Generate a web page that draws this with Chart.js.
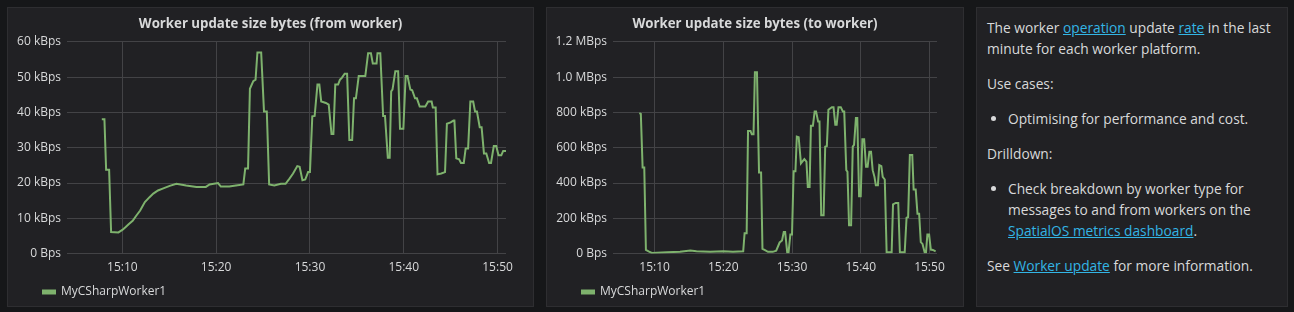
<!DOCTYPE html>
<html lang="en">
    <head>
        <title>Worker update size</title>
        <meta charset="UTF-8">
        <script src="https://cdn.jsdelivr.net/npm/chart.js@4.4.1/dist/chart.umd.min.js"></script>
        <style>
            body {
                margin: 0;
                background: #161719;
                font-family: "Open Sans", sans-serif;
                color: #d8d9da;
            }
            .panel {
                position: absolute;
                top: 7px;
                height: 298px;
                background: #212124;
                border: 1px solid #2e2e31;
            }
            .panel canvas {
                display: block;
            }
            .text {
                box-sizing: border-box;
                height: 300px;
                padding: 9px 6px 9px 10px;
                font-size: 13.75px;
                line-height: 21px;
            }
            .text p, .text ul {
                margin: 0 0 14px 0;
            }
            .text ul {
                padding-left: 21px;
            }
            .text a {
                color: #33b5e5;
                text-decoration: underline;
            }
        </style>
    </head>

    <body>
        <div class="panel" style="left:7px; width:525px;"><canvas id="fromChart" width="525" height="298"></canvas></div>
        <div class="panel" style="left:546px; width:416px;"><canvas id="toChart" width="416" height="298"></canvas></div>
        <div class="panel text" style="left:976px; width:312px;">
            <p>The worker <a href="#">operation</a> update <a href="#">rate</a> in the last minute for each worker platform.</p>
            <p>Use cases:</p>
            <ul><li>Optimising for performance and cost.</li></ul>
            <p>Drilldown:</p>
            <ul><li>Check breakdown by worker type for messages to and from workers on the <a href="#">SpatialOS metrics dashboard</a>.</li></ul>
            <p>See <a href="#">Worker update</a> for more information.</p>
        </div>

        <script>
            // minutes after 15:00, values in kBps
            const fromMinutes = [7.81, 8.09, 8.27, 8.59, 8.8, 9.58, 10.0, 10.3, 10.7, 11.1, 11.5, 11.9, 12.4, 12.9, 13.3, 13.8, 14.3, 15.05, 15.76, 16.8,
                17.9, 18.9, 19.3, 20.2, 20.5, 21.4, 22.1, 22.9, 23.1, 23.4, 23.6, 23.96, 24.2, 24.4, 24.8, 25.1, 25.4, 25.65, 26.2, 26.9,
                27.4, 27.8, 28.2, 28.65, 28.9, 29.2, 29.5, 29.8, 30.0, 30.25, 30.5, 30.8, 31.0, 31.2, 31.7, 32.0, 32.3, 32.5, 32.7, 33.0,
                33.2, 33.4, 33.7, 33.96, 34.2, 34.5, 34.7, 34.9, 35.2, 35.9, 36.2, 36.5, 36.7, 37.1, 37.2, 37.5, 37.8, 38.0, 38.3, 38.5,
                38.66, 38.8, 39.1, 39.4, 39.6, 39.96, 40.2, 40.4, 40.7, 40.9, 41.2, 41.4, 41.7, 42.3, 42.6, 42.97, 43.1, 43.4, 43.6, 44.0,
                44.4, 44.6, 45.0, 45.3, 45.4, 45.6, 45.9, 46.1, 46.4, 46.6, 46.86, 47.1, 47.4, 47.6, 47.8, 48.1, 48.3, 48.55, 48.8, 49.1,
                49.3, 49.6, 49.86, 50.1, 50.4, 50.6, 50.9];
            const fromValues = [38.1, 38.1, 23.8, 23.8, 6.1, 6.0, 6.7, 7.4, 8.4, 9.3, 10.8, 12.2, 14.6, 16.0, 17.0, 17.9, 18.4, 19.2, 19.8, 19.3,
                18.9, 18.9, 19.6, 20.0, 19.0, 19.0, 19.3, 19.6, 24.1, 24.1, 46.7, 48.9, 49.3, 57.0, 57.0, 40.3, 40.3, 19.6, 19.3, 19.8,
                19.8, 21.2, 22.7, 24.8, 24.6, 20.8, 21.0, 23.1, 23.1, 38.9, 39.0, 47.9, 47.9, 43.1, 42.7, 42.2, 33.9, 33.9, 47.9, 47.9,
                49.3, 49.8, 51.0, 51.0, 32.2, 32.2, 44.0, 44.0, 50.3, 50.3, 56.8, 56.8, 53.9, 53.9, 56.8, 56.8, 39.0, 39.0, 27.2, 27.2,
                46.0, 46.5, 51.7, 51.7, 35.4, 35.4, 50.3, 50.3, 46.5, 46.3, 44.0, 44.0, 41.7, 41.7, 43.1, 43.1, 41.4, 41.4, 22.5, 22.7,
                23.1, 36.8, 37.2, 37.7, 37.7, 27.0, 26.7, 25.7, 25.7, 29.8, 29.8, 43.1, 43.1, 40.3, 40.3, 35.8, 35.8, 28.4, 28.4, 25.7,
                25.7, 30.5, 30.5, 27.9, 27.9, 29.1, 29.1];

            const toMinutes = [7.78, 8.0, 8.26, 8.5, 8.74, 9.13, 9.6, 11.8, 13.7, 15.2, 16.1, 18.1, 20.0, 21.4, 22.9, 23.1, 23.4, 23.6, 23.96, 24.15,
                24.4, 24.6, 24.9, 25.2, 25.5, 25.7, 26.0, 26.5, 27.2, 27.7, 28.2, 28.55, 28.8, 29.0, 29.3, 29.5, 29.76, 30.0, 30.24, 30.5,
                30.7, 30.97, 31.3, 31.5, 31.8, 32.1, 32.3, 32.56, 32.75, 33.04, 33.3, 33.5, 33.8, 34.0, 34.25, 34.6, 34.83, 35.07, 35.3, 35.8,
                36.04, 36.3, 36.5, 36.76, 37.1, 37.4, 37.6, 37.9, 38.07, 38.3, 38.6, 38.84, 39.03, 39.3, 39.5, 39.76, 40.0, 40.24, 40.5, 40.77,
                41.0, 41.26, 41.5, 41.74, 42.0, 42.2, 42.5, 42.7, 43.0, 43.2, 43.5, 43.77, 44.5, 44.7, 45.1, 45.46, 45.7, 46.4, 46.67, 46.9,
                47.15, 47.5, 47.7, 48.0, 48.26, 48.5, 48.74, 48.99, 49.3, 49.5, 49.7, 49.95, 50.2, 50.5, 50.9];
            const toValues = [796, 792, 488, 488, 21, 13, 4, 8, 11, 17, 13, 10, 13, 11, 13, 116, 116, 695, 695, 676,
                676, 1028, 1028, 460, 460, 27, 21, 10, 10, 17, 63, 74, 122, 122, 8, 8, 108, 108, 467, 467,
                663, 660, 511, 521, 536, 521, 378, 378, 724, 724, 806, 806, 749, 749, 217, 217, 606, 610, 815, 830,
                830, 730, 730, 830, 830, 806, 806, 473, 464, 160, 160, 606, 616, 768, 768, 325, 325, 648, 648, 492,
                492, 578, 578, 473, 435, 388, 388, 502, 496, 435, 420, 8, 8, 279, 287, 287, 8, 8, 203, 207,
                559, 559, 363, 363, 226, 226, 65, 55, 8, 8, 108, 108, 23, 21, 13];

            const timeTicks = [10, 20, 30, 40, 50];
            const seriesName = "MyCSharpWorker1";

            Chart.defaults.font.family = "'Open Sans', sans-serif";
            Chart.defaults.color = "#d8d9da";

            // grafana centres the title on the panel and indents the legend
            const panelLayout = {
                id: "panelLayout",
                afterLayout(chart) {
                    chart.titleBlock.left = 0;
                    chart.titleBlock.right = chart.width;
                    chart.legend.left += 33;
                    chart.legend.right += 33;
                    chart.legend.top += 2;
                    chart.legend.bottom += 2;
                }
            };

            function makeChart(id, title, minutes, values, xMin, xMax, yMax, yStep, yWidth, padRight, yLabel) {
                var points = minutes.map((m, i) => ({x: m, y: values[i]}));
                return new Chart(document.getElementById(id), {
                    type: "line",
                    data: {
                        datasets: [
                            {
                                label: seriesName,
                                data: points,
                                borderColor: "#7eb26d",
                                backgroundColor: "#7eb26d",
                                borderWidth: 2,
                                pointRadius: 0,
                                tension: 0
                            }
                        ]
                    },
                    plugins: [panelLayout],
                    options: {
                        responsive: false,
                        animation: false,
                        layout: {
                            padding: {left: 0, right: padRight, top: 0, bottom: 0}
                        },
                        plugins: {
                            title: {
                                display: true,
                                text: title,
                                color: "#d8d9da",
                                font: {size: 13.25, weight: "bold"},
                                padding: {top: 8, bottom: 10}
                            },
                            legend: {
                                position: "bottom",
                                align: "start",
                                labels: {
                                    boxWidth: 12,
                                    boxHeight: 3,
                                    padding: 2,
                                    font: {size: 12},
                                    color: "#d8d9da"
                                }
                            },
                            tooltip: {enabled: false}
                        },
                        scales: {
                            x: {
                                type: "linear",
                                min: xMin,
                                max: xMax,
                                afterBuildTicks: axis => {
                                    axis.ticks = timeTicks.map(v => ({value: v}));
                                },
                                ticks: {
                                    padding: 7,
                                    font: {size: 12},
                                    maxRotation: 0,
                                    callback: v => "15:" + v
                                },
                                grid: {color: "#434346", drawTicks: false, tickLength: 0},
                                border: {display: false}
                            },
                            y: {
                                min: 0,
                                max: yMax,
                                afterFit: axis => {
                                    axis.width = yWidth;
                                },
                                ticks: {
                                    stepSize: yStep,
                                    padding: 6,
                                    font: {size: 12},
                                    callback: yLabel
                                },
                                grid: {color: "#434346", drawTicks: false, tickLength: 0},
                                border: {display: false}
                            }
                        }
                    }
                });
            }

            makeChart("fromChart", "Worker update size bytes (from worker)", fromMinutes, fromValues,
                4.1, 50.9, 60, 10, 59, 27,
                v => v === 0 ? "0 Bps" : v + " kBps");

            makeChart("toChart", "Worker update size bytes (to worker)", toMinutes, toValues,
                3.95, 51.1, 1200, 200, 66, 26,
                v => v === 0 ? "0 Bps" : (v >= 1000 ? (v / 1000).toFixed(1) + " MBps" : v + " kBps"));
        </script>
    </body>
</html>
